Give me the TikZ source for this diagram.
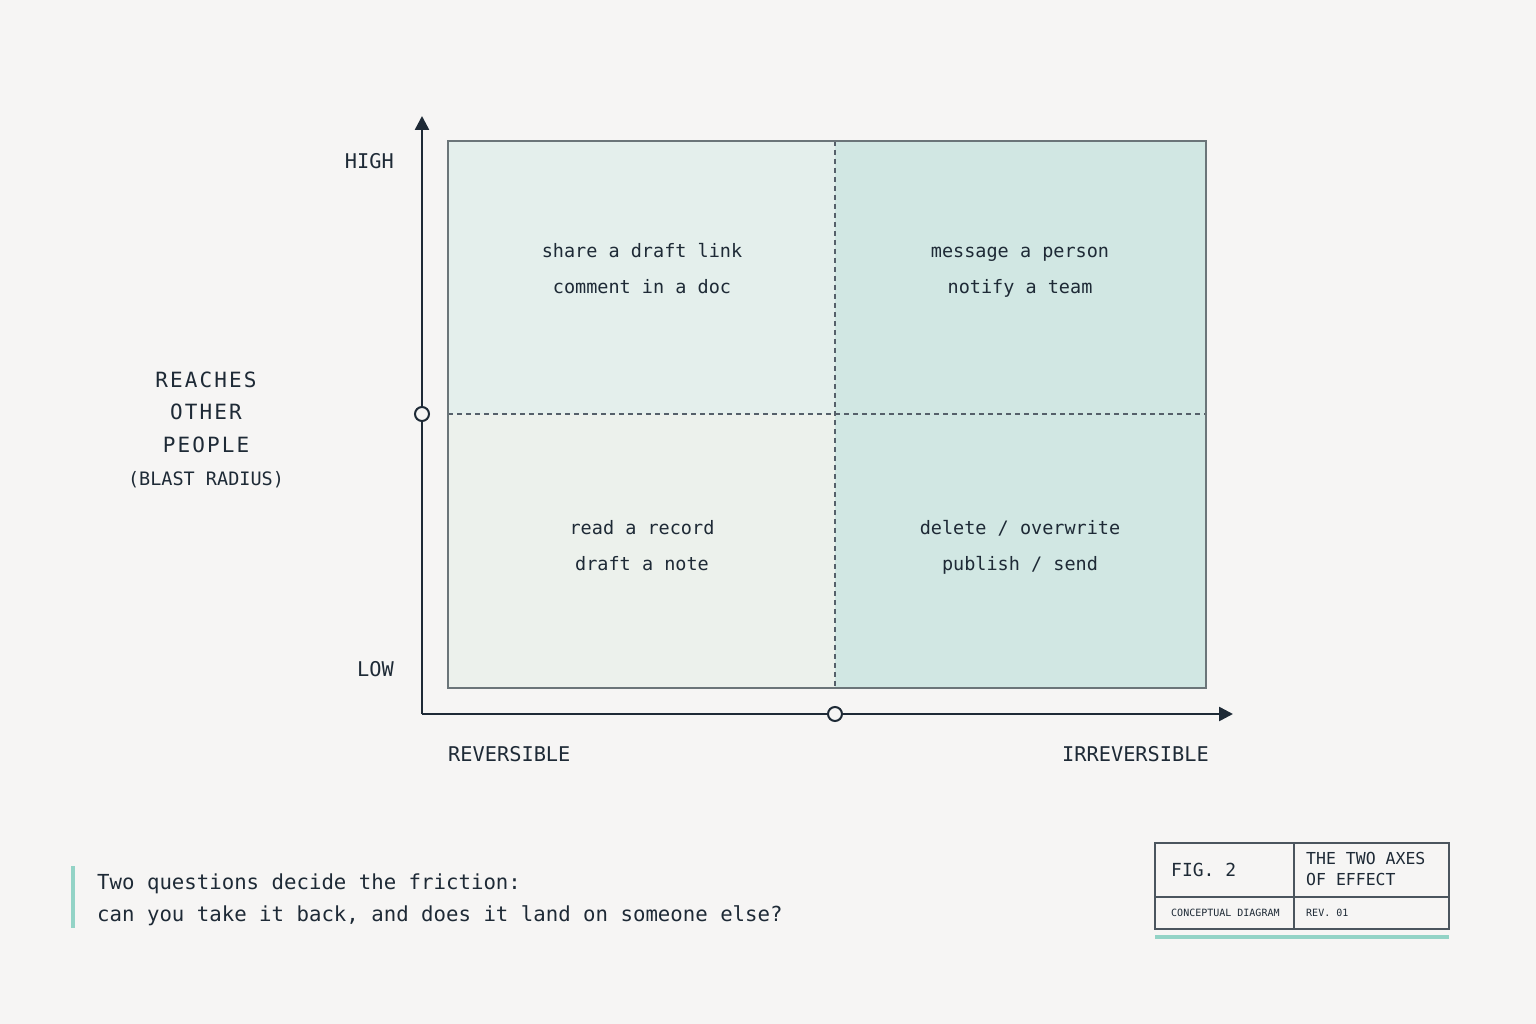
\documentclass[tikz,border=0pt]{standalone}
\usepackage{fontspec}
\setmonofont{DejaVu Sans Mono}
\newfontfamily\widemono[LetterSpace=10]{DejaVu Sans Mono}
\usetikzlibrary{arrows.meta,positioning}
\definecolor{paper}{HTML}{F6F5F4}
\definecolor{ink}{HTML}{1E2A36}
\definecolor{edgegray}{HTML}{6B7579}
\definecolor{dashgray}{HTML}{55606A}
\definecolor{tealA}{HTML}{E4EFEC}
\definecolor{tealB}{HTML}{D1E7E3}
\definecolor{tealC}{HTML}{ECF1EC}
\definecolor{accent}{HTML}{93D3C6}

\begin{document}
\begin{tikzpicture}[x=1pt,y=-1pt,>={Triangle[length=14pt,width=14pt]},
  txt/.style={text=ink,inner sep=0pt,font=\ttfamily\fontsize{18.5}{36}\selectfont,align=center},
  lbl/.style={text=ink,inner sep=0pt,font=\ttfamily\fontsize{20.3}{24}\selectfont},
  big/.style={text=ink,inner sep=0pt,font=\widemono\fontsize{21}{32.5}\selectfont,align=center},
  dot/.style={circle,draw=ink,fill=paper,line width=2pt,minimum size=14pt,inner sep=0pt},
  grid/.style={draw=dashgray,line width=1.1pt,dash pattern=on 5pt off 4pt},
  axis/.style={draw=ink,fill=ink,line width=2.5pt}]
\fill[paper] (0,0) rectangle (1536,1024);
\useasboundingbox (0,0) rectangle (1536,1024);
% quadrants
\fill[tealA] (448,141) rectangle (835,414);
\fill[tealB] (835,141) rectangle (1206,414);
\fill[tealC] (448,414) rectangle (835,688);
\fill[tealB] (835,414) rectangle (1206,688);
\draw[grid] (835,141) -- (835,688);
\draw[grid] (448,414) -- (1206,414);
\draw[edgegray,line width=1.2pt] (448,141) rectangle (1206,688);
% axes
\coordinate (O) at (422,714);
\coordinate (Y) at (422,116);
\coordinate (X) at (1233,714);
\draw[axis,->] (O) -- (Y);
\draw[axis,->] (O) -- (X);
\node[dot] (MY) at (422,414) {};
\node[dot] (MX) at (835,714) {};
% quadrant text
\node[txt] (TL) at (642,268.5) {\strut share a draft link\\\strut comment in a doc};
\node[txt] (TR) at (1020,268.5) {\strut message a person\\\strut notify a team};
\node[txt] (BL) at (642,545.5) {\strut read a record\\\strut draft a note};
\node[txt] (BR) at (1020,545.5) {\strut delete / overwrite\\\strut publish / send};
% axis labels
\node[lbl,anchor=east] (H) at (394,161) {HIGH};
\node[lbl,anchor=east] (L) at (394,669) {LOW};
\node[lbl,anchor=west] (R) at (448,754) {REVERSIBLE};
\node[lbl,anchor=east] (I) at (1209,754) {IRREVERSIBLE};
\node[big] (P) at (206,412) {REACHES\\OTHER\\PEOPLE};
\node[txt,below=19pt of P] (B) {(BLAST RADIUS)};
% caption
\fill[accent] (71,866) rectangle (75,928);
\node[lbl,anchor=west,align=left,font=\ttfamily\fontsize{20.7}{32}\selectfont] (C) at (97,900)
  {Two questions decide the friction:\\can you take it back, and does it land on someone else?};
% title block
\draw[ink!80,line width=1.2pt] (1155,843) rectangle (1449,929);
\draw[ink!80,line width=1.2pt] (1294,843) -- (1294,929);
\draw[ink!80,line width=1.2pt] (1155,897) -- (1449,897);
\fill[accent] (1155,935) rectangle (1449,939);
\node[lbl,anchor=west,font=\ttfamily\fontsize{18}{24}\selectfont] (F) at (1171,870) {FIG. 2};
\node[lbl,anchor=west,align=left,font=\ttfamily\fontsize{16.5}{21}\selectfont] (T) at (1306,869) {THE TWO AXES\\OF EFFECT};
\node[lbl,anchor=west,font=\ttfamily\fontsize{10}{12}\selectfont] (D) at (1171,913) {CONCEPTUAL DIAGRAM};
\node[lbl,anchor=west,font=\ttfamily\fontsize{10}{12}\selectfont] (V) at (1306,913) {REV. 01};
\end{tikzpicture}
\end{document}
